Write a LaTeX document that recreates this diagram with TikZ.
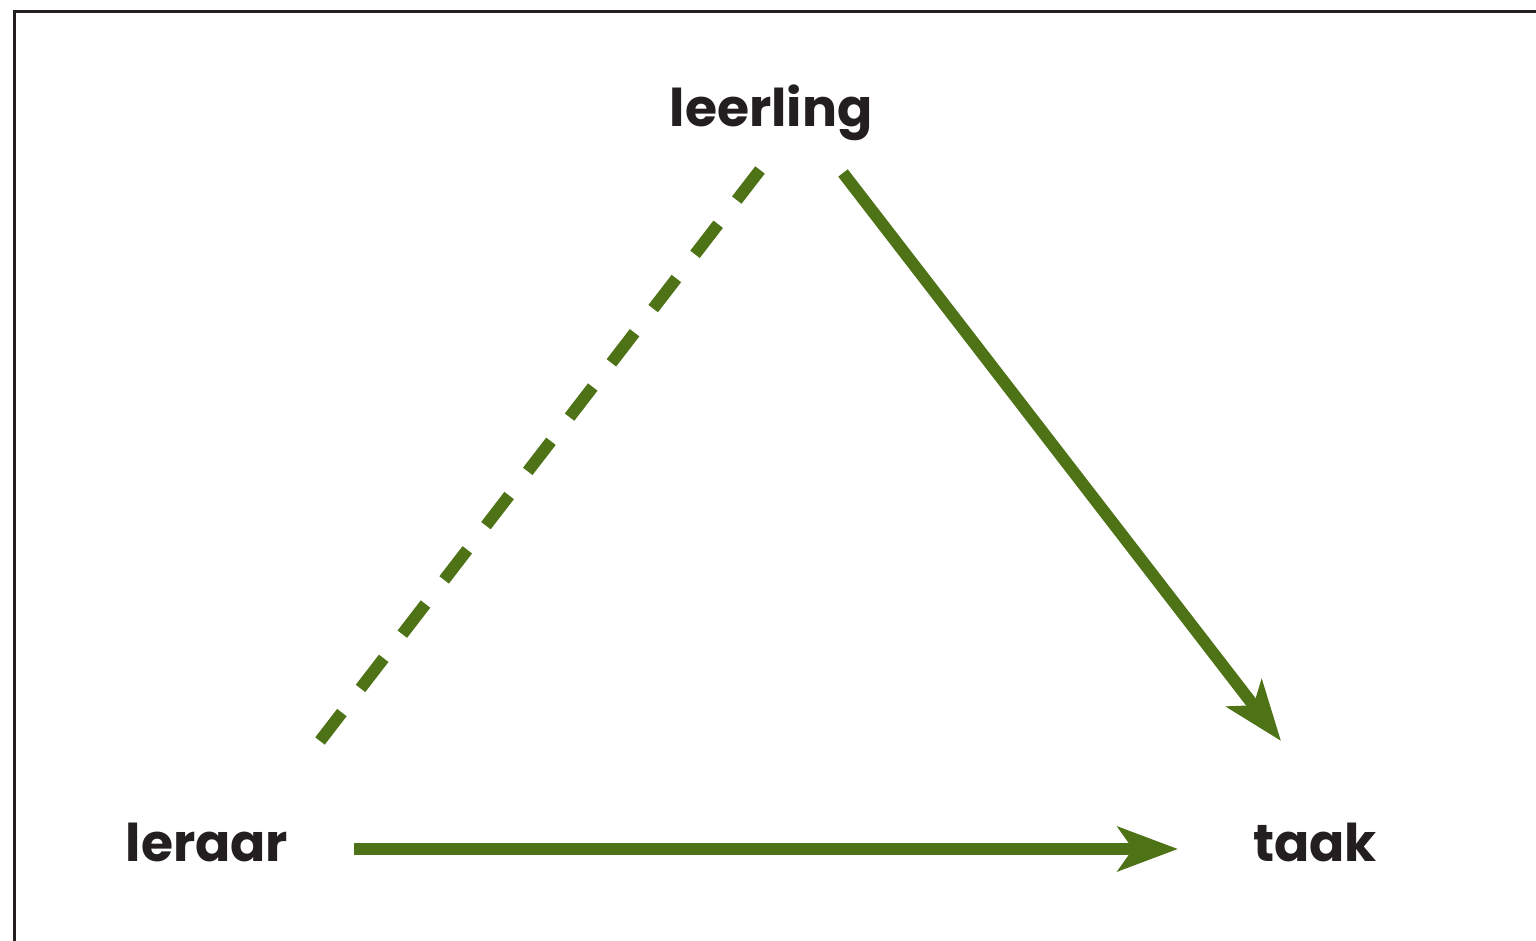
\documentclass[tikz,border=0pt]{standalone}
\usepackage{fontspec}
\setmainfont{Poppins}
\usepackage{xcolor}
\usetikzlibrary{arrows.meta,calc}
\definecolor{leafgreen}{HTML}{4E7216}
\definecolor{inkdark}{HTML}{231F20}
\tikzset{
  lbl/.style   = {inkdark, font=\fontsize{26pt}{29pt}\selectfont\bfseries, inner sep=0pt, anchor=base},
  fl/.style    = {-{Stealth[length=30pt, width=22pt, inset=7.5pt]}, line width=6pt, leafgreen},
  fld/.style   = {line width=6pt, leafgreen, dash pattern=on 19pt off 15.25pt},
  frm/.style   = {line width=1.5pt, inkdark},
}
\begin{document}
\begin{tikzpicture}[x=0.5pt, y=0.5pt]
  \useasboundingbox (0,0) rectangle (1536,941);
  \draw[frm] (14.5,0) -- (14.5,929) -- (1536,929);
  \node[lbl] (leerling) at (771,814) {leerling};
  \node[lbl] (leraar) at (207,79) {leraar};
  \node[lbl] (taak) at (1315,79) {taak};
  \draw[fld] ([shift={(-5.5pt,-21.5pt)}]leerling.base) -- ([shift={(56.5pt,60.5pt)}]leraar.base);
  \draw[fl] ([shift={(36pt,-23pt)}]leerling.base) -- ([shift={(-17pt,60.5pt)}]taak.base);
  \draw[fl] ([shift={(73.5pt,6.5pt)}]leraar.base) -- ([shift={(-68.5pt,6.5pt)}]taak.base);
\end{tikzpicture}
\end{document}
